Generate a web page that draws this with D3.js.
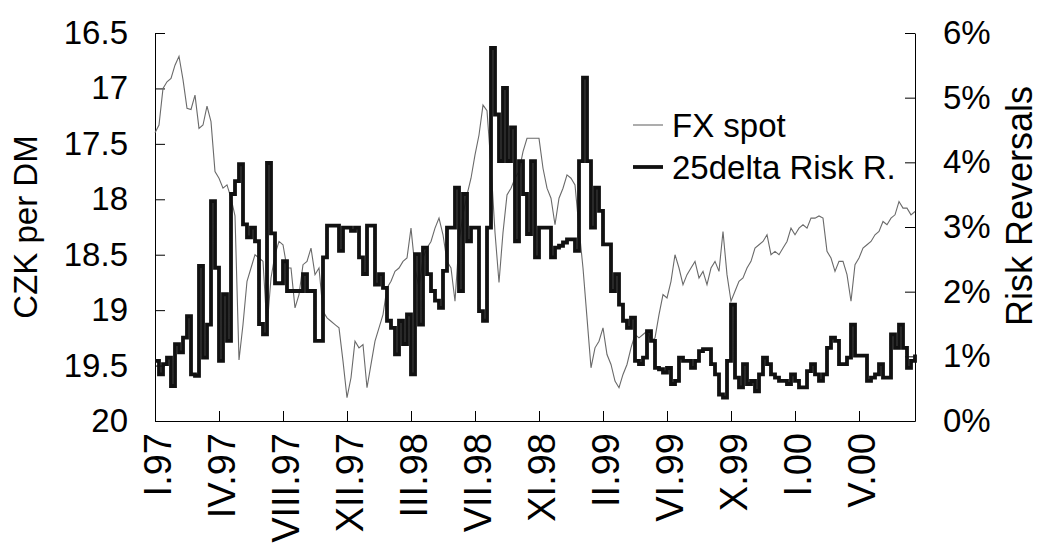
<!DOCTYPE html>
<html>
<head>
<meta charset="utf-8">
<script src="https://cdn.jsdelivr.net/npm/d3@7"></script>
<style>
  body { margin: 0; background: #fff; }
  text { font-family: "Liberation Sans", Arial, sans-serif; }
</style>
</head>
<body>
<script>
// samples are spaced evenly, 16 per labelled tick interval
var tickLabels = ["I.97", "IV.97", "VIII.97", "XII.97", "III.98", "VII.98", "XI.98", "II.99", "VI.99", "X.99", "I.00", "V.00"];
var samplesPerTick = 16;

// CZK per DM
var fxSpot = [
  17.40, 17.33, 17.00, 16.94, 16.91, 16.79, 16.71, 16.92, 17.18, 17.19, 17.06, 17.36, 17.33, 17.16, 17.30, 17.75,
  17.81, 17.90, 17.87, 17.99, 18.15, 19.45, 19.13, 18.74, 18.62, 18.50, 18.53, 18.56, 19.16, 18.71, 18.50, 18.38,
  18.41, 18.62, 18.62, 18.98, 18.86, 18.59, 18.56, 18.44, 18.68, 18.62, 19.01, 19.07, 19.10, 19.13, 19.16, 19.46,
  19.79, 19.61, 19.28, 19.34, 19.31, 19.70, 19.49, 19.28, 19.16, 19.04, 18.80, 18.74, 18.65, 18.62, 18.56, 18.53,
  18.26, 18.62, 18.80, 18.53, 18.44, 18.38, 18.26, 18.17, 18.32, 18.56, 18.62, 18.92, 18.38, 18.14, 17.96, 17.81,
  17.60, 17.42, 17.15, 17.20, 17.70, 18.30, 18.75, 18.30, 17.96, 17.90, 17.81, 17.75, 17.57, 17.45, 17.45, 17.45,
  17.45, 17.72, 17.90, 17.99, 18.23, 17.99, 17.90, 17.78, 17.81, 17.87, 18.26, 18.62, 19.07, 19.52, 19.34, 19.28,
  19.16, 19.40, 19.49, 19.64, 19.70, 19.58, 19.49, 19.34, 19.22, 19.25, 19.22, 19.19, 19.28, 19.25, 19.04, 18.86,
  18.89, 18.74, 18.50, 18.62, 18.77, 18.68, 18.62, 18.56, 18.71, 18.65, 18.77, 18.62, 18.56, 18.65, 18.29, 18.68,
  18.92, 18.83, 18.74, 18.71, 18.62, 18.56, 18.44, 18.41, 18.38, 18.32, 18.50, 18.47, 18.50, 18.44, 18.38, 18.26,
  18.32, 18.26, 18.23, 18.26, 18.17, 18.17, 18.15, 18.17, 18.47, 18.53, 18.65, 18.56, 18.56, 18.68, 18.92, 18.59,
  18.53, 18.44, 18.41, 18.38, 18.32, 18.29, 18.20, 18.23, 18.17, 18.14, 18.02, 18.08, 18.08, 18.14, 18.11
];

// 25 delta risk reversals, in %
var riskRev = [
  0.93, 0.72, 0.88, 0.98, 0.54, 1.19, 1.06, 1.29, 1.62, 0.72, 0.70, 2.40, 0.98, 1.49, 3.40, 2.37,
  0.93, 1.96, 1.24, 3.51, 3.71, 3.97, 3.04, 2.84, 2.99, 2.78, 1.50, 1.34, 3.99, 2.90, 2.13, 2.13,
  2.47, 2.01, 2.01, 2.01, 2.01, 2.27, 2.01, 2.01, 1.24, 1.24, 2.53, 3.02, 3.02, 3.02, 2.63, 2.99,
  2.99, 2.94, 2.99, 2.53, 2.27, 3.02, 3.02, 2.11, 2.27, 2.06, 1.55, 1.44, 1.03, 1.55, 1.19, 1.65,
  0.72, 2.58, 1.49, 2.68, 2.27, 2.01, 1.86, 1.75, 2.32, 2.99, 2.99, 3.61, 2.01, 3.51, 2.78, 2.99,
  2.99, 1.70, 1.55, 2.99, 5.77, 4.74, 4.02, 5.15, 4.02, 4.54, 2.78, 4.02, 3.51, 2.89, 4.02, 2.53,
  2.99, 2.99, 2.99, 2.53, 2.68, 2.71, 2.76, 2.81, 2.81, 2.63, 4.02, 5.31, 4.02, 2.99, 3.61, 3.25,
  2.73, 2.73, 2.01, 2.27, 1.80, 1.55, 1.44, 1.60, 0.93, 0.88, 0.98, 1.39, 1.24, 0.82, 0.80, 0.75,
  0.82, 0.57, 0.62, 0.98, 0.93, 0.93, 0.82, 0.93, 1.08, 1.11, 1.11, 0.88, 0.72, 0.41, 0.36, 0.93,
  1.80, 0.67, 0.52, 0.88, 0.57, 0.62, 0.46, 0.72, 0.98, 0.88, 0.72, 0.67, 0.62, 0.62, 0.57, 0.72,
  0.62, 0.52, 0.52, 0.77, 0.88, 0.72, 0.62, 0.72, 1.13, 1.29, 1.24, 0.88, 0.88, 0.98, 1.49, 1.01,
  1.01, 1.01, 0.62, 0.67, 0.72, 0.88, 0.67, 0.67, 1.34, 1.13, 1.49, 1.13, 0.82, 0.93, 1.03
];

var fxTicks = [16.5, 17, 17.5, 18, 18.5, 19, 19.5, 20];
var rrTicks = [0, 1, 2, 3, 4, 5, 6];

var createChart = function() {
  let width = 1041, height = 543;
  let left = 155, right = 915, top = 33, bottom = 421;

  let svg = d3.select('body')
    .append('svg')
    .attr('width', width)
    .attr('height', height)
    .style('font-size', '33px');

  svg.append('rect').attr('width', width).attr('height', height).attr('fill', '#fff');

  let x = d3.scaleLinear().domain([0, fxSpot.length - 1]).range([left, right]);
  let yFx = d3.scaleLinear().domain([16.5, 20]).range([top, bottom]);
  let yRr = d3.scaleLinear().domain([0, 6]).range([bottom, top]);

  // axes, ticks pointing inward
  let xAxis = d3.axisBottom(x)
    .tickValues(tickLabels.map((d, i) => i * samplesPerTick))
    .tickFormat((d, i) => tickLabels[i])
    .tickSize(-10).tickSizeOuter(0);
  let gx = svg.append('g').attr('transform', 'translate(0,' + bottom + ')').call(xAxis);

  let gl = svg.append('g').attr('transform', 'translate(' + left + ',0)')
    .call(d3.axisLeft(yFx).tickValues(fxTicks).tickFormat(d => String(d))
      .tickSize(-10).tickSizeOuter(0).tickPadding(27));

  let gr = svg.append('g').attr('transform', 'translate(' + right + ',0)')
    .call(d3.axisRight(yRr).tickValues(rrTicks).tickFormat(d => d + '%')
      .tickSize(-10).tickSizeOuter(0).tickPadding(28));

  svg.selectAll('.tick text').attr('fill', '#000').style('font-size', '33px')
    .style('font-family', '"Liberation Sans", Arial, sans-serif');
  svg.selectAll('.domain, .tick line').attr('stroke', '#000');

  // month labels run upward, a bit larger
  gx.selectAll('text')
    .attr('transform', 'rotate(-90)')
    .attr('x', -12).attr('y', 0).attr('dy', '0.42em')
    .style('text-anchor', 'end')
    .style('font-size', '38px');

  // lines
  let fxLine = d3.line().x((d, i) => x(i)).y(d => yFx(d));
  svg.append('path').datum(fxSpot)
    .attr('d', fxLine).attr('fill', 'none')
    .attr('stroke', '#6a6a6a').attr('stroke-width', 1.1);

  let rrLine = d3.line().x((d, i) => x(i)).y(d => yRr(d)).curve(d3.curveStepAfter);
  svg.append('path').datum(riskRev)
    .attr('d', rrLine).attr('fill', 'none')
    .attr('stroke', '#111').attr('stroke-width', 3.8);

  // axis titles
  svg.append('text')
    .attr('transform', 'translate(37,227) rotate(-90)')
    .attr('text-anchor', 'middle').text('CZK per DM');
  svg.append('text')
    .attr('transform', 'translate(1032,206) rotate(-90)')
    .attr('text-anchor', 'middle').style('font-size', '36px').text('Risk Reversals');

  // legend
  let legend = [
    { name: 'FX spot', color: '#6a6a6a', w: 1.1, y: 125 },
    { name: '25delta Risk R.', color: '#111', w: 3.8, y: 167 }
  ];
  legend.forEach(d => {
    svg.append('line').attr('x1', 633).attr('x2', 663).attr('y1', d.y).attr('y2', d.y)
      .attr('stroke', d.color).attr('stroke-width', d.w);
    svg.append('text').attr('x', 672).attr('y', d.y).attr('dy', '0.35em').text(d.name);
  });
}

createChart();
</script>
</body>
</html>
